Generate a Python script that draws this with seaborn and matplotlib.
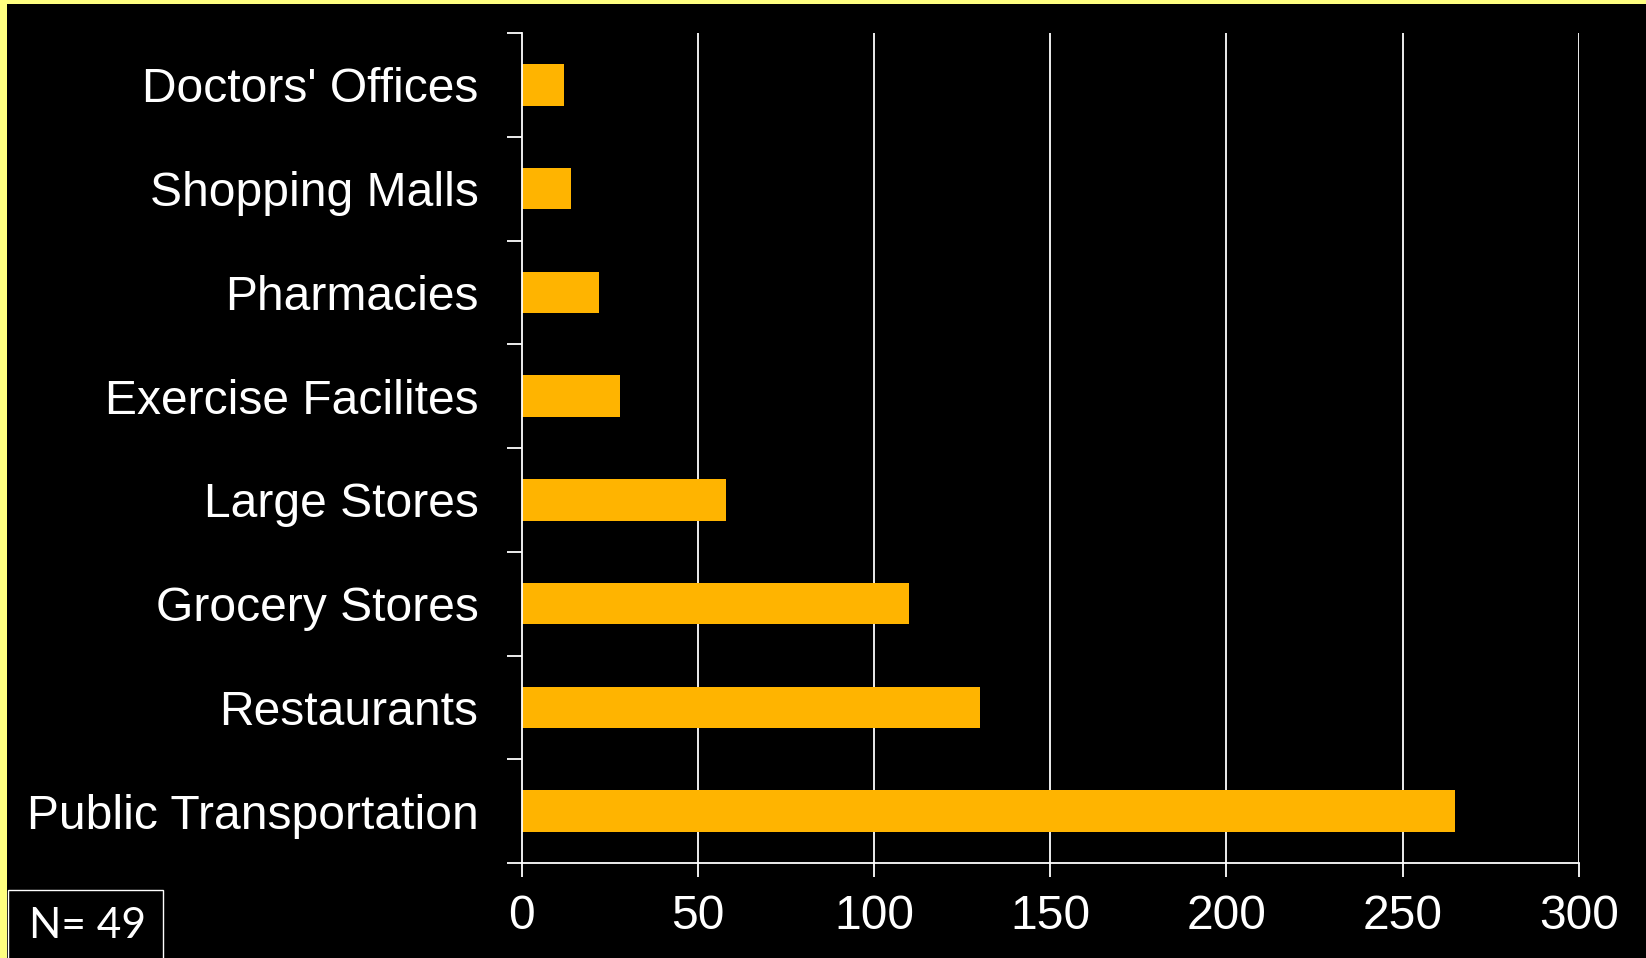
import numpy as np
import pandas as pd
import matplotlib
matplotlib.use("Agg")
import matplotlib.pyplot as plt
from matplotlib.patches import Rectangle
import seaborn as sns

# datos
lugares = ["Doctors' Offices", "Shopping Malls", "Pharmacies", "Exercise Facilites",
           "Large Stores", "Grocery Stores", "Restaurants", "Public Transportation"]
conteos = [12, 14, 22, 28, 58, 110, 130, 265]
x_ticks = [0, 50, 100, 150, 200, 250, 300]
nota = "N= 49"

sns.set_theme(style="white")
plt.rcParams['font.family'] = ['Liberation Sans', 'DejaVu Sans']

W, H = 1646, 958
fig = plt.figure(figsize=(W / 100, H / 100), dpi=100, facecolor="black")

# borde amarillo arriba y a la izquierda
fig.patches.append(Rectangle((0, 0), 7 / W, 1, transform=fig.transFigure,
                             facecolor="#FFFF80", edgecolor="none", zorder=0))
fig.patches.append(Rectangle((0, 1 - 4 / H), 1, 4 / H, transform=fig.transFigure,
                             facecolor="#FFFF80", edgecolor="none", zorder=0))

ax = fig.add_axes([521.5 / W, 1 - 863 / H, (1578.7 - 521.5) / W, (863 - 33) / H])
ax.set_facecolor("black")

df = pd.DataFrame({"lugar": lugares, "conteo": conteos})
sns.barplot(data=df, x="conteo", y="lugar", orient="h", color="#FFB400",
            saturation=1, width=0.4, linewidth=0, ax=ax)

ax.set_xlim(0, 300)
ax.set_ylim(len(lugares) - 0.5, -0.5)
ax.set_xticks(x_ticks)
ax.set_xlabel("")
ax.set_ylabel("")

# lineas de grilla verticales blancas
for v in x_ticks[1:]:
    ax.axvline(v, color="white", lw=1.3, zorder=0)

for s in ["top", "right"]:
    ax.spines[s].set_visible(False)
for s in ["left", "bottom"]:
    ax.spines[s].set_color("white")
    ax.spines[s].set_linewidth(1.3)

# marcas del eje y entre categorias
ax.set_yticks(np.arange(-0.5, len(lugares) + 0.5, 1), minor=True)
ax.tick_params(axis="y", which="major", length=0, pad=31, labelsize=34.6, labelcolor="white")
ax.tick_params(axis="y", which="minor", length=11, width=1.3, color="white", direction="out", left=True)
ax.tick_params(axis="x", which="major", length=10, width=1.3, color="white", direction="out",
               bottom=True, pad=12, labelsize=34.6, labelcolor="white")

# caja N=49
fig.text(29 / W, 1 - 938 / H, nota, color="white", fontsize=30.5, family=["Lato", "DejaVu Sans"],
         va="baseline", ha="left")
fig.patches.append(Rectangle((8 / W, -0.05), (163 - 8) / W, 0.05 + (958 - 890) / H,
                             transform=fig.transFigure, facecolor="none",
                             edgecolor="white", lw=1.0, zorder=3))

fig.savefig("out.png", dpi=100, facecolor="black")
